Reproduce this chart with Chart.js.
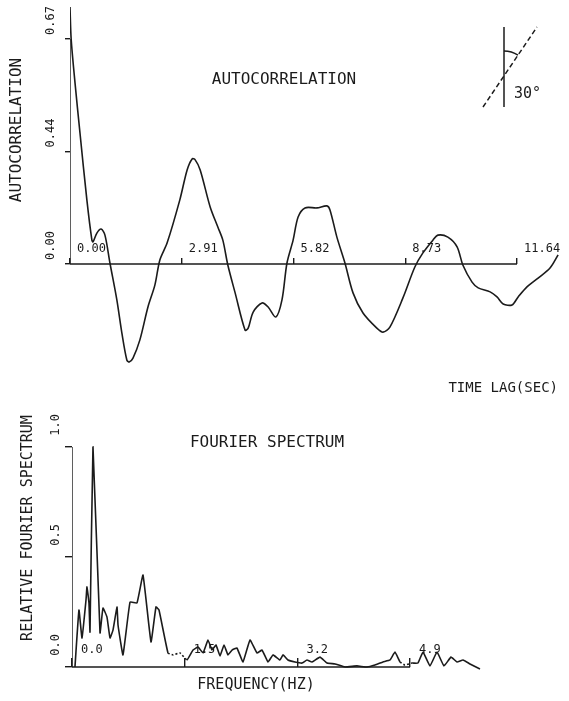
<!DOCTYPE html>
<html>
<head>
<meta charset="utf-8">
<title>Autocorrelation / Fourier spectrum</title>
<script src="https://cdn.jsdelivr.net/npm/chart.js@4.4.1/dist/chart.umd.min.js"></script>
<style>
    html, body { margin: 0; padding: 0; background: #fff; }
    #wrap { position: relative; width: 569px; height: 701px; }
    #acChart { position: absolute; left: 0; top: 0; }
    #fsChart { position: absolute; left: 0; top: 400px; }
</style>
</head>
<body>
<div id="wrap">
    <canvas id="acChart" width="569" height="400"></canvas>
    <canvas id="fsChart" width="569" height="301"></canvas>
</div>
<script>
// autocorrelation vs time lag (sec)
var acLag = [0, 0.03, 0.13, 0.26, 0.44, 0.57, 0.60, 0.70, 0.81, 0.91,
    1.04, 1.22, 1.35, 1.48, 1.54, 1.64, 1.82, 2.03, 2.21, 2.34,
    2.53, 2.86, 3.05, 3.18, 3.26, 3.39, 3.65, 3.85, 3.98, 4.11,
    4.30, 4.56, 4.64, 4.77, 5.00, 5.16, 5.36, 5.52, 5.65, 5.81,
    5.94, 6.12, 6.43, 6.69, 6.77, 6.95, 7.16, 7.37, 7.63, 7.99,
    8.15, 8.33, 8.67, 8.98, 9.19, 9.45, 9.58, 9.84, 10.08, 10.23,
    10.47, 10.63, 10.94, 11.12, 11.28, 11.51, 11.67, 11.90, 12.19, 12.50, 12.71];
var acValue = [0.765, 0.67, 0.54, 0.39, 0.19, 0.071, 0.066, 0.092, 0.104, 0.086,
    0.003, -0.107, -0.205, -0.286, -0.292, -0.280, -0.226, -0.128, -0.063, 0.012,
    0.063, 0.191, 0.280, 0.313, 0.310, 0.280, 0.170, 0.110, 0.071, -0.003,
    -0.086, -0.197, -0.191, -0.143, -0.116, -0.128, -0.158, -0.107, 0.003, 0.071,
    0.140, 0.167, 0.167, 0.173, 0.161, 0.080, 0.003, -0.086, -0.146, -0.191,
    -0.203, -0.188, -0.101, -0.009, 0.033, 0.071, 0.086, 0.080, 0.051, -0.003,
    -0.054, -0.071, -0.083, -0.098, -0.119, -0.122, -0.098, -0.068, -0.042, -0.012, 0.027];
var acXTicks = [0, 2.91, 5.82, 8.73, 11.64];
var acXLabels = ['0.00', '2.91', '5.82', '8.73', '11.64'];
var acYTicks = [0, 0.335, 0.67];
var acYLabels = ['0.00', '0.44', '0.67'];

// relative fourier spectrum vs frequency (hz)
var fsFreq = [0.043, 0.101, 0.145, 0.203, 0.217, 0.246, 0.261, 0.304, 0.406, 0.449,
    0.507, 0.551, 0.594, 0.652, 0.667, 0.739, 0.841, 0.942, 1.029, 1.145,
    1.217, 1.261, 1.391, 1.464, 1.565, 1.667, 1.754, 1.826, 1.899, 1.971,
    2.029, 2.087, 2.145, 2.203, 2.261, 2.319, 2.391, 2.478, 2.580, 2.681,
    2.754, 2.841, 2.913, 3.014, 3.058, 3.130, 3.232, 3.333, 3.406, 3.478,
    3.594, 3.696, 3.812, 3.957, 4.130, 4.275, 4.391, 4.507, 4.609, 4.681,
    4.754, 4.826, 4.928, 5.014, 5.087, 5.188, 5.290, 5.391, 5.493, 5.580,
    5.667, 5.768, 5.913];
var fsValue = [0, 0.259, 0.132, 0.305, 0.364, 0.291, 0.159, 1.0, 0.155, 0.268,
    0.227, 0.132, 0.168, 0.273, 0.191, 0.055, 0.295, 0.291, 0.418, 0.114,
    0.273, 0.259, 0.064, 0.055, 0.064, 0.032, 0.077, 0.091, 0.064, 0.123,
    0.077, 0.100, 0.050, 0.100, 0.055, 0.077, 0.086, 0.023, 0.123, 0.064,
    0.077, 0.023, 0.055, 0.032, 0.055, 0.032, 0.023, 0.018, 0.032, 0.023,
    0.045, 0.018, 0.014, 0, 0.005, 0, 0.009, 0.023, 0.032, 0.068,
    0.023, 0.009, 0.018, 0.018, 0.068, 0.005, 0.068, 0.005, 0.045, 0.023,
    0.032, 0.014, -0.009];
var fsDotted = [[1.39, 1.67], [4.75, 4.93]];
var fsXTicks = [0, 1.633, 3.267, 4.9];
var fsXLabels = ['0.0', '1.5', '3.2', '4.9'];
var fsYTicks = [0, 0.5, 1.0];
var fsYLabels = ['0.0', '0.5', '1.0'];

var INK = '#1b1b1b';
var MONO = "'DejaVu Sans Mono', monospace";
Chart.defaults.font.family = MONO;
Chart.defaults.color = INK;

function points(xs, ys) {
    return xs.map(function (x, i) { return { x: x, y: ys[i] }; });
}

function fixedTicks(values) {
    return function (scale) {
        scale.ticks = values.map(function (v) { return { value: v }; });
    };
}

// plotter style axes: only drawn between first and last tick
function axisDatasets(xTicks, yTicks) {
    var style = { borderColor: INK, borderWidth: 1.4, pointRadius: 0, tension: 0 };
    return [
        Object.assign({ data: [{ x: xTicks[0], y: 0 }, { x: xTicks[xTicks.length - 1], y: 0 }] }, style),
        Object.assign({ data: [{ x: 0, y: 0 }, { x: 0, y: yTicks[yTicks.length - 1] }] }, style)
    ];
}

function buildScales(o) {
    return {
        x: {
            type: 'linear',
            position: { y: 0 },
            min: o.xMin,
            max: o.xMax,
            afterBuildTicks: fixedTicks(o.xTicks),
            afterFit: function (s) { s.height = 0; s.paddingLeft = 0; s.paddingRight = 0; },
            border: { display: false },
            grid: { drawOnChartArea: false, tickLength: o.xTickLength, color: INK, lineWidth: 1.4 },
            ticks: {
                autoSkip: false, minRotation: 0, maxRotation: 0,
                align: 'start', labelOffset: o.xLabelOffset, padding: o.xLabelPadding,
                font: { size: 12 }, color: INK,
                callback: function (v, i) { return o.xLabels[i]; }
            }
        },
        y: {
            type: 'linear',
            position: 'left',
            min: o.yMin,
            max: o.yMax,
            afterBuildTicks: fixedTicks(o.yTicks),
            afterFit: function (s) { s.width = o.yWidth; s.paddingTop = 0; s.paddingBottom = 0; },
            border: { display: false },
            grid: { drawOnChartArea: false, tickLength: o.yTickLength, color: INK, lineWidth: 1.4 },
            ticks: {
                autoSkip: false, minRotation: 90, maxRotation: 90,
                labelOffset: -33, padding: o.yLabelPadding,
                font: { size: 12 }, color: INK,
                callback: function (v, i) { return o.yLabels[i]; }
            }
        }
    };
}

// free text + the little 30 degree sketch
var plotterText = {
    id: 'plotterText',
    afterDraw: function (chart, args, opts) {
        var ctx = chart.ctx;
        ctx.save();
        ctx.fillStyle = INK;
        ctx.strokeStyle = INK;
        (opts.items || []).forEach(function (t) {
            ctx.save();
            ctx.font = t.size + 'px ' + MONO;
            ctx.textAlign = t.align || 'center';
            ctx.textBaseline = 'middle';
            ctx.translate(t.x, t.y);
            if (t.rotate) {
                ctx.rotate(-Math.PI / 2);
            }
            ctx.fillText(t.text, 0, 0);
            ctx.restore();
        });
        if (opts.angle) {
            var a = opts.angle;
            ctx.lineWidth = 1.5;
            ctx.beginPath();
            ctx.moveTo(a.vx, a.top);
            ctx.lineTo(a.vx, a.bottom);
            ctx.stroke();
            ctx.setLineDash([5, 3]);
            ctx.beginPath();
            ctx.moveTo(a.x0, a.y0);
            ctx.lineTo(a.x1, a.y1);
            ctx.stroke();
            ctx.setLineDash([]);
            var cy = a.y0 + (a.vx - a.x0) * (a.y1 - a.y0) / (a.x1 - a.x0);
            var end = Math.atan2(a.y1 - cy, a.x1 - a.vx);
            ctx.beginPath();
            ctx.arc(a.vx, cy, a.r, -Math.PI / 2, end);
            ctx.stroke();
        }
        ctx.restore();
    }
};

var acChart = new Chart(document.getElementById('acChart'), {
    type: 'line',
    data: {
        datasets: axisDatasets(acXTicks, acYTicks).concat([{
            data: points(acLag, acValue),
            borderColor: INK,
            borderWidth: 1.6,
            pointRadius: 0,
            tension: 0.3
        }])
    },
    options: {
        responsive: false,
        animation: false,
        events: [],
        layout: { padding: { top: 0, right: 9, bottom: 10, left: 0 } },
        scales: buildScales({
            xMin: 0, xMax: 12.76, xTicks: acXTicks, xLabels: acXLabels,
            xTickLength: -6, xLabelOffset: 7, xLabelPadding: -16,
            yMin: -0.3752, yMax: 0.7861, yTicks: acYTicks, yLabels: acYLabels,
            yWidth: 70, yTickLength: 5, yLabelPadding: 14
        }),
        plugins: {
            legend: { display: false },
            tooltip: { enabled: false },
            plotterText: {
                items: [
                    { text: 'AUTOCORRELATION', x: 284, y: 80, size: 16 },
                    { text: 'AUTOCORRELATION', x: 17, y: 130, size: 16, rotate: true },
                    { text: 'TIME LAG(SEC)', x: 558, y: 388, size: 14, align: 'right' },
                    { text: '30°', x: 514, y: 94, size: 15, align: 'left' }
                ],
                angle: { vx: 504, top: 27, bottom: 107, x0: 483, y0: 107, x1: 537, y1: 27, r: 25 }
            }
        }
    },
    plugins: [plotterText]
});

var fsChart = new Chart(document.getElementById('fsChart'), {
    type: 'line',
    data: {
        datasets: axisDatasets(fsXTicks, fsYTicks).concat([{
            data: points(fsFreq, fsValue),
            borderColor: INK,
            borderWidth: 1.6,
            pointRadius: 0,
            tension: 0.1,
            segment: {
                borderDash: function (ctx) {
                    var a = ctx.p0.parsed.x, b = ctx.p1.parsed.x;
                    var dotted = fsDotted.some(function (r) { return a >= r[0] && b <= r[1]; });
                    return dotted ? [2, 2] : undefined;
                }
            }
        }])
    },
    options: {
        responsive: false,
        animation: false,
        events: [],
        layout: { padding: { top: 0, right: 69, bottom: 10, left: 0 } },
        scales: buildScales({
            xMin: 0, xMax: 6.203, xTicks: fsXTicks, xLabels: fsXLabels,
            xTickLength: -9, xLabelOffset: 9, xLabelPadding: -15,
            yMin: -0.109, yMax: 1.2136, yTicks: fsYTicks, yLabels: fsYLabels,
            yWidth: 72, yTickLength: 7, yLabelPadding: 9
        }),
        plugins: {
            legend: { display: false },
            tooltip: { enabled: false },
            plotterText: {
                items: [
                    { text: 'FOURIER SPECTRUM', x: 267, y: 43, size: 16 },
                    { text: 'RELATIVE FOURIER SPECTRUM', x: 28, y: 128, size: 15, rotate: true },
                    { text: 'FREQUENCY(HZ)', x: 256, y: 285, size: 15 }
                ]
            }
        }
    },
    plugins: [plotterText]
});
</script>
</body>
</html>
